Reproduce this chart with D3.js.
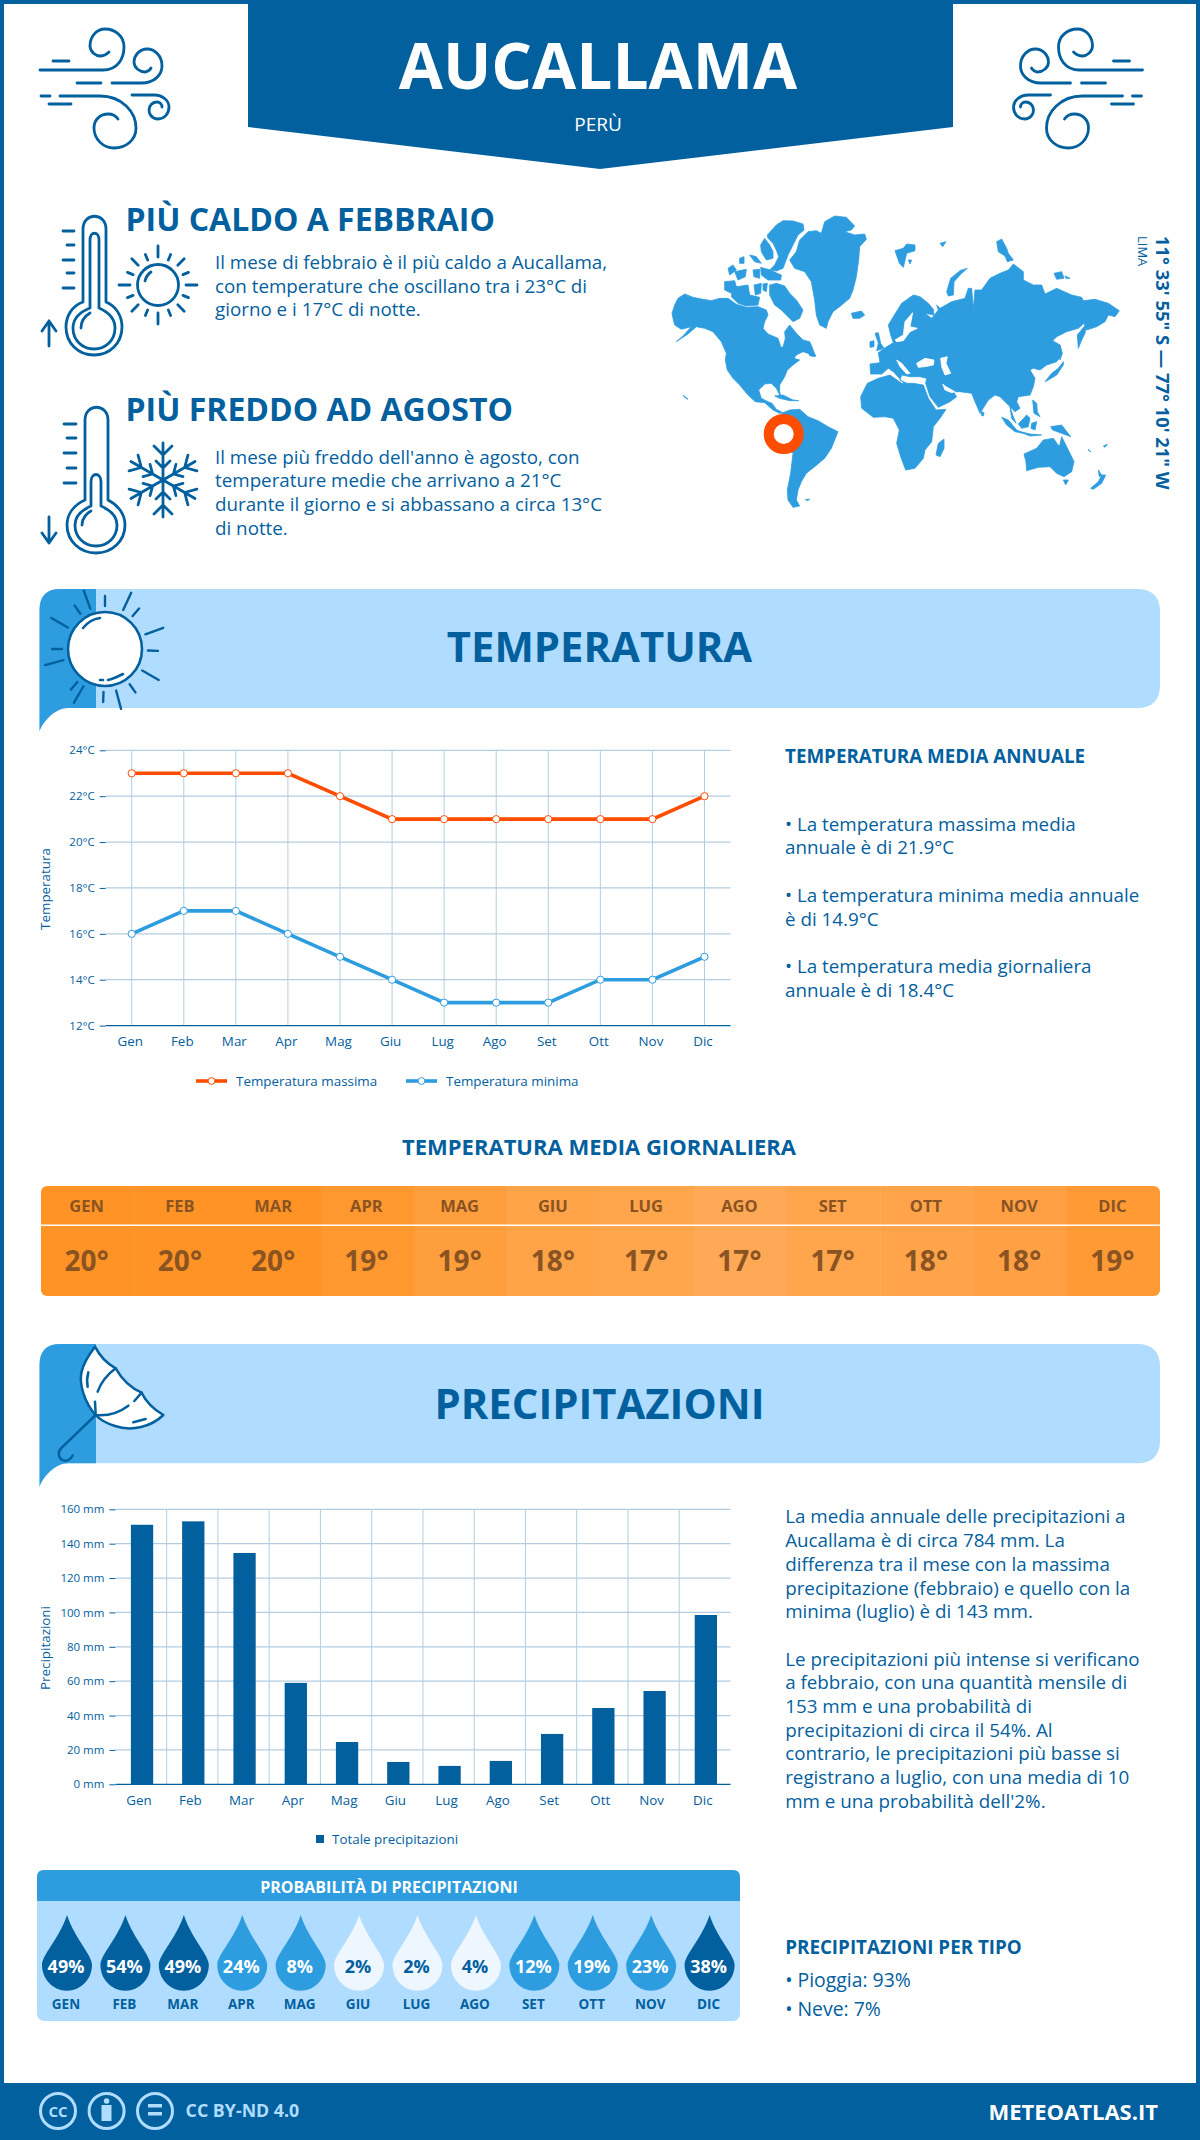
<!DOCTYPE html>
<html>
<head>
<meta charset="utf-8">
<script src="https://cdn.jsdelivr.net/npm/d3@7"></script>
<style>
  body { margin: 0; background: #fff; }
  text { font-family: "Open Sans", sans-serif; }
</style>
</head>
<body>
<svg id="chart" width="1200" height="2140" viewBox="0 0 1200 2140"></svg>
<script>
const months = ['Gen','Feb','Mar','Apr','Mag','Giu','Lug','Ago','Set','Ott','Nov','Dic']
const monthsUpper = ['GEN','FEB','MAR','APR','MAG','GIU','LUG','AGO','SET','OTT','NOV','DIC']
const tempMax = [23,23,23,23,22,21,21,21,21,21,21,22]
const tempMin = [16,17,17,16,15,14,13,13,13,14,14,15]
const tempAvg = [20,20,20,19,19,18,17,17,17,18,18,19]
const precip = [151,153,134.6,59,24.6,13,10.7,13.6,29.3,44.4,54.3,98.5]
const precipProb = [49,54,49,24,8,2,2,4,12,19,23,38]
const tempTicks = [12,14,16,18,20,22,24]
const precipTicks = [0,20,40,60,80,100,120,140,160]

const hotText = ['Il mese di febbraio è il più caldo a Aucallama,','con temperature che oscillano tra i 23°C di','giorno e i 17°C di notte.']
const coldText = ["Il mese più freddo dell'anno è agosto, con",'temperature medie che arrivano a 21°C','durante il giorno e si abbassano a circa 13°C','di notte.']
const annualText = [['• La temperatura massima media',831],['annuale è di 21.9°C',854],['• La temperatura minima media annuale',902.3],['è di 14.9°C',926],['• La temperatura media giornaliera',973],['annuale è di 18.4°C',996.7]]
const precipText = [['La media annuale delle precipitazioni a',1523.3],['Aucallama è di circa 784 mm. La',1547],['differenza tra il mese con la massima',1570.7],['precipitazione (febbraio) e quello con la',1594.5],['minima (luglio) è di 143 mm.',1618.3],
  ['Le precipitazioni più intense si verificano',1665.6],['a febbraio, con una quantità mensile di',1689.3],['153 mm e una probabilità di',1713],['precipitazioni di circa il 54%. Al',1736.6],['contrario, le precipitazioni più basse si',1760.3],['registrano a luglio, con una media di 10',1784],['mm e una probabilità dell\'2%.',1807.7]]

const blue = '#03609e', mid = '#2e9ddf', light = '#b0dcff', orange = '#ff4d00', grid = '#b3cde0'
const heatColors = ['#ff9326','#ff9326','#ff9326','#ff982f','#ff9e3c','#ffa349','#ffa54c','#ffa855','#ffa54c','#ffa44a','#ffa045','#ff9a35']

const svg = d3.select('#chart')

function label(x, y, str, size, weight, fill, anchor) {
  return svg.append('text').attr('x', x).attr('y', y).text(str)
    .attr('font-size', size).attr('font-weight', weight || 400)
    .attr('fill', fill || blue).attr('text-anchor', anchor || 'start')
}
function stroke(g, d, w) {
  return g.append('path').attr('d', d).attr('fill', 'none').attr('stroke', blue)
    .attr('stroke-width', w || 2.8).attr('stroke-linecap', 'round').attr('stroke-linejoin', 'round')
}

// frame and header
svg.append('rect').attr('x', 2).attr('y', 2).attr('width', 1196).attr('height', 2100)
  .attr('fill', 'none').attr('stroke', blue).attr('stroke-width', 4)
svg.append('path').attr('d', 'M248 0H953V127L600 169L248 127Z').attr('fill', blue)
label(598, 89, 'AUCALLAMA', 64, 700, '#fff', 'middle')
label(598, 131, 'PERÙ', 19, 400, '#fff', 'middle')

function wind(g) {
  stroke(g, 'M40 70H103C118 70 124 58 124 47C124 36 115 29 105 29C96 29 90 37 90 46C90 52 96 56 100 56C104 56 107 54 109 52')
  stroke(g, 'M53 61H69M77 83H101')
  stroke(g, 'M112 83H142C154 83 162 75 162 66C162 56 155 49 147 49C139 49 134 56 134 62C134 68 140 72 145 72C147 72 150 70 151 68')
  stroke(g, 'M41 96H50M60 96H100C122 96 136 112 136 128C136 140 126 148 114 148C103 148 94 139 94 128C94 119 101 114 108 114C112 114 116 116 118 119')
  stroke(g, 'M49 104H71')
  stroke(g, 'M132 95H154C163 95 169 101 169 107C169 114 164 119 158 119C152 119 149 114 149 110C149 105 153 102 157 102C160 102 162 104 162 107')
}
wind(svg.append('g'))
wind(svg.append('g').attr('transform', 'translate(1182.5,0) scale(-1,1)'))

// hot and cold blocks
label(125.5, 231, 'PIÙ CALDO A FEBBRAIO', 32, 700)
hotText.forEach((t, i) => label(215, 269 + i * 23.6, t, 18.8))
label(125.5, 421, 'PIÙ FREDDO AD AGOSTO', 32, 700)
coldText.forEach((t, i) => label(215, 463.6 + i * 23.7, t, 18.8))

const icons = svg.append('g')
stroke(icons, 'M83 302V229C83 212 106 212 106 229V302C116 306 122 316 122 327C122 343 110 355 94 355C78 355 66 343 66 327C66 316 72 306 83 302Z')
stroke(icons, 'M90 308V240C90 231 99 231 99 240V308C108 312 115 319 115 328C115 340 106 349 94 349C82 349 73 340 73 328C73 319 80 312 90 308Z')
stroke(icons, 'M81 328C81 320 85 316 90 313')
stroke(icons, 'M63 231H74M67 245H74M63 260H74M67 273H74M63 288H74M49 346V321M42 331L49 321L56 331')
stroke(icons, 'M85 500V420C85 403 108 403 108 420V500C118 505 125 514 125 525C125 541 112 553 96 553C80 553 67 541 67 525C67 514 74 505 85 500Z')
stroke(icons, 'M91 506V482C91 472 101 472 101 482V506C110 510 117 516 117 525C117 537 108 546 96 546C84 546 75 537 75 525C75 516 82 510 91 506Z')
stroke(icons, 'M82 525C82 518 87 513 91 511')
stroke(icons, 'M64 424H76M67 438H76M64 453H76M67 468H76M64 483H76M49 517V543M42 533L49 543L56 533')

// small sun
const sun = svg.append('g').attr('transform', 'translate(158,285)')
sun.append('circle').attr('r', 20.5).attr('fill', 'none').attr('stroke', blue).attr('stroke-width', 2.8)
stroke(sun, 'M-13 -4C-12 -8 -10 -11 -7 -13')
d3.range(16).forEach(i => {
  const a = i * Math.PI / 8
  const r0 = i % 2 === 0 ? 28 : 27
  const r1 = i % 4 === 0 ? 39 : i % 2 === 0 ? 37 : 33
  stroke(sun, `M${r0 * Math.cos(a)} ${r0 * Math.sin(a)}L${r1 * Math.cos(a)} ${r1 * Math.sin(a)}`)
})

// snowflake
const flake = svg.append('g').attr('transform', 'translate(163,480)')
d3.range(6).forEach(i => {
  const arm = flake.append('g').attr('transform', `rotate(${i * 60})`)
  stroke(arm, 'M0 0V-37M-9 -34L0 -25L9 -34M-7 -19L0 -12L7 -19')
})

// world map, outlines in two crops
const landWest = [
  [[12,310],[20,285],[30,265],[50,252],[75,262],[105,268],[130,272],[155,265],[180,265],[205,283],[235,292],[270,290],[295,300],[300,315],[290,335],[285,355],[300,372],[330,385],[338,410],[345,412],[352,385],[350,365],[365,345],[385,370],[405,390],[425,395],[432,410],[442,438],[420,430],[405,425],[385,435],[378,445],[395,450],[375,465],[358,480],[350,500],[335,525],[335,545],[340,565],[325,535],[310,520],[290,522],[272,540],[280,565],[300,575],[312,580],[325,598],[345,608],[335,610],[315,600],[290,578],[262,575],[240,555],[215,525],[195,505],[178,480],[172,450],[175,430],[160,395],[135,365],[110,355],[85,350],[60,372],[25,395],[45,378],[70,350],[40,358],[20,345],[15,325]],
  [[298,75],[325,45],[345,32],[375,33],[405,42],[408,60],[390,75],[375,105],[360,135],[345,175],[325,183],[305,180],[320,165],[332,140],[325,120],[315,100],[300,85]],
  [[278,105],[290,85],[305,105],[315,125],[315,145],[295,150],[280,125]],
  [[305,225],[325,220],[350,228],[365,250],[385,270],[405,300],[395,325],[375,335],[360,320],[340,300],[320,285],[305,255]],
  [[195,232],[240,225],[245,255],[275,262],[270,285],[235,288],[210,280],[190,260]],
  [[170,215],[200,212],[205,230],[190,250],[170,240]],
  [[255,180],[275,178],[275,205],[258,200]],
  [[278,172],[300,178],[340,195],[338,210],[300,210],[280,195]],
  [[200,185],[235,178],[232,200],[210,210]],
  [[180,175],[195,165],[205,180],[185,195]],
  [[215,145],[228,140],[228,160],[215,160]],
  [[245,135],[265,140],[280,160],[260,155]],
  [[258,225],[280,220],[278,250],[262,255]],
  [[285,222],[298,220],[295,245],[285,240]],
  [[420,425],[440,430],[442,440],[425,437]],
  [[365,150],[385,125],[395,90],[420,65],[445,62],[460,70],[470,35],[500,18],[535,22],[560,48],[550,60],[530,65],[560,75],[590,72],[595,88],[575,110],[572,150],[565,200],[555,240],[545,265],[515,290],[495,305],[480,335],[475,355],[455,345],[445,315],[440,270],[430,215],[410,185],[380,175]],
  [[550,310],[580,303],[590,315],[575,325],[555,325]],
  [[320,558],[345,555],[375,570],[392,572],[365,572],[335,565]],
  [[345,608],[365,600],[395,598],[420,620],[450,632],[480,650],[510,665],[500,690],[490,715],[470,745],[440,770],[415,790],[400,815],[390,840],[385,870],[395,888],[375,892],[360,870],[358,840],[368,790],[375,730],[350,690],[330,650],[330,625]],
  [[412,868],[425,868],[418,872]],
  [[45,555],[60,568],[50,562]]
]
const landEast = [
  [[30,432],[60,428],[55,398],[80,380],[100,368],[92,345],[85,315],[100,290],[125,250],[160,225],[180,230],[205,250],[220,268],[222,285],[195,280],[215,295],[235,270],[230,255],[240,265],[275,245],[315,235],[325,205],[335,205],[340,265],[345,210],[365,210],[390,175],[420,160],[445,150],[460,132],[490,155],[490,180],[520,195],[545,195],[555,222],[590,205],[635,225],[665,232],[670,242],[705,238],[745,250],[778,272],[765,290],[745,285],[735,305],[710,320],[680,330],[672,310],[655,325],[620,335],[590,350],[578,362],[600,375],[605,405],[590,425],[560,435],[540,450],[520,445],[510,450],[525,475],[520,500],[510,525],[475,530],[470,545],[480,565],[465,575],[445,555],[420,530],[405,525],[385,540],[360,580],[345,545],[335,520],[300,515],[280,515],[290,530],[270,545],[235,562],[210,530],[197,490],[200,475],[180,470],[150,470],[125,465],[120,480],[140,490],[130,488],[100,455],[85,445],[65,462],[32,462]],
  [[45,340],[55,338],[62,370],[72,385],[50,392],[55,370]],
  [[30,365],[42,362],[42,380],[30,382]],
  [[2,530],[22,490],[55,475],[90,465],[125,490],[160,490],[190,495],[205,535],[228,570],[258,568],[240,595],[220,620],[215,665],[195,690],[190,715],[165,745],[137,750],[122,710],[110,670],[118,630],[100,595],[75,590],[40,592],[5,565]],
  [[228,705],[235,670],[252,657],[252,685],[240,710]],
  [[260,215],[272,175],[300,152],[322,145],[305,160],[282,185],[280,225],[265,228]],
  [[105,92],[130,85],[140,72],[165,75],[165,92],[140,100],[130,142],[118,130]],
  [[145,120],[155,120],[150,132]],
  [[240,70],[258,65],[248,80]],
  [[410,65],[425,57],[440,85],[445,100],[460,120],[442,125],[435,108],[415,95]],
  [[582,160],[605,155],[612,175],[590,178]],
  [[615,168],[630,175],[618,175]],
  [[652,345],[672,320],[680,310],[675,340],[665,360],[655,385]],
  [[555,485],[575,460],[595,445],[610,425],[610,435],[590,465],[565,480]],
  [[600,375],[607,400],[600,420],[595,395]],
  [[365,575],[372,578],[370,588],[363,585]],
  [[425,592],[445,600],[470,630],[490,640],[465,635],[440,615]],
  [[470,632],[510,642],[545,645],[510,648]],
  [[475,612],[500,585],[510,595],[505,620],[485,625]],
  [[515,610],[530,605],[525,630],[513,625]],
  [[518,540],[530,550],[532,575],[540,590],[522,580]],
  [[572,620],[605,615],[632,650],[600,638],[578,630]],
  [[450,560],[460,590],[468,610],[455,595]],
  [[492,702],[530,685],[550,660],[580,655],[598,680],[605,650],[625,690],[642,725],[635,755],[612,770],[590,760],[570,740],[535,742],[500,752],[498,725]],
  [[610,780],[625,780],[617,795]],
  [[692,805],[715,785],[725,765],[737,765],[725,790],[700,808]],
  [[715,750],[725,765],[718,770]],
  [[685,688],[692,695],[686,692]],
  [[730,678],[742,673],[735,682]]
]
const waterEast = [
  [[248,492],[258,500],[285,515],[275,518],[255,510]],
  [[170,430],[195,415],[222,420],[220,435],[195,440],[175,442]],
  [[242,415],[262,410],[258,430],[272,460],[255,465],[245,440]],
  [[105,360],[130,345],[135,305],[158,278],[150,320],[172,325],[150,335],[130,362],[110,365]],
  [[110,420],[125,430],[150,460],[140,462],[120,440]]
]
function mapPath(x0, y0) {
  const x = d3.scaleLinear().domain([0, 3]).range([x0, x0 + 1])
  const y = d3.scaleLinear().domain([0, 3]).range([y0, y0 + 1])
  return d3.line().x(d => x(d[0])).y(d => y(d[1])).curve(d3.curveLinearClosed)
}
const westPath = mapPath(668, 210), eastPath = mapPath(860, 220)
function drawShapes(shapes, path, color) {
  svg.append('g').selectAll('path').data(shapes).join('path').attr('d', path)
    .attr('fill', color).attr('stroke', color).attr('stroke-width', 0.8).attr('stroke-linejoin', 'round')
}
drawShapes(landWest, westPath, mid)
drawShapes(landEast, eastPath, mid)
drawShapes(waterEast, eastPath, '#fff')
svg.append('circle').attr('cx', 783.7).attr('cy', 434).attr('r', 15).attr('fill', '#fff').attr('stroke', orange).attr('stroke-width', 10)

svg.append('text').attr('transform', 'translate(1156,236) rotate(90)').text('11° 33\' 55" S — 77° 10\' 21" W')
  .attr('font-size', 18.4).attr('font-weight', 700).attr('fill', blue)
svg.append('text').attr('transform', 'translate(1137.5,236) rotate(90)').text('LIMA')
  .attr('font-size', 13).attr('fill', blue)

// section banners
function banner(top, bottom, tail, title, baseline) {
  svg.append('path').attr('d', `M39.5 ${tail}V${top + 21}Q39.5 ${top} 60 ${top}H1137Q1160 ${top} 1160 ${top + 23}V${bottom - 23}Q1160 ${bottom} 1137 ${bottom}H68C55 ${bottom} 43 ${tail - 10} 39.5 ${tail}Z`).attr('fill', light)
  svg.append('path').attr('d', `M39.5 ${tail}V${top + 21}Q39.5 ${top} 60 ${top}H96V${bottom}H68C55 ${bottom} 43 ${tail - 10} 39.5 ${tail}Z`).attr('fill', mid)
  label(599.5, baseline, title, 41.8, 700, blue, 'middle')
}
banner(589, 708, 731.5, 'TEMPERATURA', 662)
banner(1344, 1463.3, 1487, 'PRECIPITAZIONI', 1419)

// big sun
const bigSun = svg.append('g').attr('transform', 'translate(105,649)')
bigSun.append('circle').attr('r', 37).attr('fill', '#fff').attr('stroke', blue).attr('stroke-width', 2.6)
stroke(bigSun, 'M-22 -21C-18 -26 -12 -30 -5 -31', 2.6)
stroke(bigSun, 'M-5 31H-2M3 31C8 30 12 28 18 25', 2.6)
const longRays = [-150,-110,-65,-20,30,75,120,165]
const shortRays = [-125,-90,-50,2,55,92,130,180]
longRays.forEach(a => {
  const c = Math.cos(a * Math.PI / 180), s = Math.sin(a * Math.PI / 180)
  stroke(bigSun, `M${43 * c} ${43 * s}L${62 * c} ${62 * s}`, 2.4)
})
shortRays.forEach(a => {
  const c = Math.cos(a * Math.PI / 180), s = Math.sin(a * Math.PI / 180)
  stroke(bigSun, `M${43 * c} ${43 * s}L${53 * c} ${53 * s}`, 2.4)
})

// umbrella, drawn at 3x and scaled down
const umbrella = svg.append('g').attr('transform', 'translate(35,1340) scale(0.3333)')
umbrella.append('path').attr('d', 'M180 20C195 50 215 70 242 85C262 120 290 145 320 158C335 190 360 210 385 225C350 260 290 275 240 258C215 250 195 240 182 225C150 190 130 130 140 95C145 70 165 40 180 20Z')
  .attr('fill', '#fff').attr('stroke', blue).attr('stroke-width', 7.5).attr('stroke-linejoin', 'round')
stroke(umbrella, 'M242 85C215 105 197 130 188 155M180 185L182 222M320 158L298 183M280 197C250 220 215 228 182 225M160 97C155 115 155 125 158 140M295 247L332 237M182 225L78 325C65 340 72 362 92 362C102 362 108 355 113 347', 7.5)

// temperature line chart
const tx = d3.scalePoint().domain(months).range([131.7, 704.5])
const ty = d3.scaleLinear().domain([12, 24]).range([1025.6, 750.3])
const tg = svg.append('g')
tg.append('g').selectAll('line').data(tempTicks.slice(1)).join('line')
  .attr('x1', 105.7).attr('x2', 730.5).attr('y1', d => ty(d)).attr('y2', d => ty(d))
  .attr('stroke', grid).attr('stroke-width', 1.2)
tg.append('g').selectAll('line').data(months).join('line')
  .attr('x1', d => tx(d)).attr('x2', d => tx(d)).attr('y1', 750.3).attr('y2', 1025.6)
  .attr('stroke', grid).attr('stroke-width', 1)

function styleAxis(g, size) {
  g.selectAll('path,line').attr('stroke', blue)
  g.selectAll('text').attr('fill', blue).attr('font-size', size).attr('font-family', '"Open Sans", sans-serif')
}
tg.append('g').attr('transform', 'translate(105.7,0)')
  .call(d3.axisLeft(ty).tickValues(tempTicks).tickSize(6).tickFormat(d => d + '°C'))
  .call(styleAxis, 11.5).call(g => g.select('.domain').remove())
  .call(g => g.selectAll('text').attr('x', -11))
tg.append('g').attr('transform', 'translate(0,1025.6)')
  .call(d3.axisBottom(tx).tickSize(0).tickPadding(11))
  .call(styleAxis, 13.4)
  .call(g => g.select('.domain').attr('d', 'M105.7 0H730.5').attr('stroke-width', 1.3))
  .call(g => g.selectAll('text').attr('x', -2))

const tLine = d3.line().x((d, i) => tx(months[i])).y(d => ty(d))
function tempSeries(values, color) {
  tg.append('path').datum(values).attr('d', tLine).attr('fill', 'none').attr('stroke', color).attr('stroke-width', 3.6)
  tg.append('g').selectAll('circle').data(values).join('circle')
    .attr('cx', (d, i) => tx(months[i])).attr('cy', d => ty(d)).attr('r', 3.6)
    .attr('fill', '#fff').attr('stroke', color).attr('stroke-width', 1)
}
tempSeries(tempMax, orange)
tempSeries(tempMin, mid)

svg.append('text').attr('transform', 'translate(50,889) rotate(-90)').attr('text-anchor', 'middle')
  .text('Temperatura').attr('font-size', 13.4).attr('fill', blue)

function legendLine(x0, color, str) {
  svg.append('line').attr('x1', x0).attr('x2', x0 + 31).attr('y1', 1081).attr('y2', 1081).attr('stroke', color).attr('stroke-width', 3.6)
  svg.append('circle').attr('cx', x0 + 15.5).attr('cy', 1081).attr('r', 3.4).attr('fill', '#fff').attr('stroke', color)
  label(x0 + 40, 1085.5, str, 13.4)
}
legendLine(196, orange, 'Temperatura massima')
legendLine(406, mid, 'Temperatura minima')

label(785, 763.3, 'TEMPERATURA MEDIA ANNUALE', 18.8, 700)
annualText.forEach(d => label(785, d[1], d[0], 18.8))

// daily mean strip
label(599, 1155, 'TEMPERATURA MEDIA GIORNALIERA', 22, 700, blue, 'middle')
const hx = d3.scaleBand().domain(monthsUpper).range([41, 1160])
svg.append('clipPath').attr('id', 'strip').append('rect')
  .attr('x', 41).attr('y', 1186).attr('width', 1119).attr('height', 110).attr('rx', 6)
const strip = svg.append('g').attr('clip-path', 'url(#strip)')
strip.selectAll('rect').data(monthsUpper).join('rect')
  .attr('x', d => hx(d)).attr('y', 1186).attr('width', hx.bandwidth() + 0.5).attr('height', 110)
  .attr('fill', (d, i) => heatColors[i])
svg.append('line').attr('x1', 41).attr('x2', 1160).attr('y1', 1225.3).attr('y2', 1225.3).attr('stroke', '#fff').attr('stroke-width', 1.5)
monthsUpper.forEach((m, i) => {
  label(hx(m) + hx.bandwidth() / 2 - 1, 1211.7, m, 16.5, 700, '#8a5322', 'middle')
  label(hx(m) + hx.bandwidth() / 2 - 1, 1271, tempAvg[i] + '°', 28, 700, '#8a5322', 'middle')
})

// precipitation bars
const pBand = d3.scaleBand().domain(months).range([115.4, 730.5])
const px = pBand.copy().paddingInner(0.565).paddingOuter(0.2825)
const py = d3.scaleLinear().domain([0, 160]).range([1784.3, 1509.3])
const pg = svg.append('g')
pg.append('g').selectAll('line').data(precipTicks.slice(1)).join('line')
  .attr('x1', 115.4).attr('x2', 730.5).attr('y1', d => py(d)).attr('y2', d => py(d))
  .attr('stroke', grid).attr('stroke-width', 1.2)
pg.append('g').selectAll('line').data(months.slice(1)).join('line')
  .attr('x1', d => pBand(d)).attr('x2', d => pBand(d)).attr('y1', 1509.3).attr('y2', 1784.3)
  .attr('stroke', grid).attr('stroke-width', 1)
pg.append('g').selectAll('rect').data(precip).join('rect')
  .attr('x', (d, i) => px(months[i]) + 1).attr('width', px.bandwidth())
  .attr('y', d => py(d)).attr('height', d => py(0) - py(d)).attr('fill', blue)
pg.append('g').attr('transform', 'translate(115.4,0)')
  .call(d3.axisLeft(py).tickValues(precipTicks).tickSize(6).tickFormat(d => d + ' mm'))
  .call(styleAxis, 11.5).call(g => g.select('.domain').remove())
  .call(g => g.selectAll('text').attr('x', -11))
pg.append('g').attr('transform', 'translate(0,1784.3)')
  .call(d3.axisBottom(pBand).tickSize(0).tickPadding(11))
  .call(styleAxis, 13.4)
  .call(g => g.select('.domain').attr('d', 'M115.4 0H730.5').attr('stroke-width', 1.3))
  .call(g => g.selectAll('text').attr('x', -2))
svg.append('text').attr('transform', 'translate(50,1648) rotate(-90)').attr('text-anchor', 'middle')
  .text('Precipitazioni').attr('font-size', 13.4).attr('fill', blue)
svg.append('rect').attr('x', 316).attr('y', 1835).attr('width', 8).attr('height', 8).attr('fill', blue)
label(332, 1843.5, 'Totale precipitazioni', 13.4)

precipText.forEach(d => label(785.2, d[1], d[0], 18.8))
label(785.2, 1953.5, 'PRECIPITAZIONI PER TIPO', 18.8, 700)
label(785.2, 1987, '• Pioggia: 93%', 19.4)
label(785.2, 2016, '• Neve: 7%', 19.4)

// rain probability panel
svg.append('rect').attr('x', 37).attr('y', 1870).attr('width', 703).attr('height', 151).attr('rx', 7).attr('fill', light)
svg.append('path').attr('d', 'M37 1901V1877Q37 1870 44 1870H733Q740 1870 740 1877V1901Z').attr('fill', mid)
label(389, 1893, 'PROBABILITÀ DI PRECIPITAZIONI', 16, 700, '#fff', 'middle')
const dropX = d3.scalePoint().domain(monthsUpper).range([67, 709.6])
const dropColor = d3.scaleThreshold().domain([5, 30]).range(['#eef7ff', mid, blue])
const dropPath = 'M0 0C8 24 25 40 25 50C25 64 14 75.7 0 75.7C-14 75.7 -25 64 -25 50C-25 40 -8 24 0 0Z'
svg.append('g').selectAll('path').data(precipProb).join('path')
  .attr('d', dropPath).attr('transform', (d, i) => `translate(${dropX(monthsUpper[i])},1915)`)
  .attr('fill', d => dropColor(d))
precipProb.forEach((p, i) => {
  const x = dropX(monthsUpper[i]) - 1
  label(x, 1972.7, p + '%', 18, 700, p < 5 ? blue : '#fff', 'middle')
  label(x, 2009, monthsUpper[i], 13.5, 700, blue, 'middle')
})

// footer
svg.append('rect').attr('x', 0).attr('y', 2083).attr('width', 1200).attr('height', 57).attr('fill', blue)
const badges = svg.append('g')
;[58, 106.6, 155].forEach(x => {
  badges.append('circle').attr('cx', x).attr('cy', 2111).attr('r', 17.5).attr('fill', 'none').attr('stroke', light).attr('stroke-width', 3)
})
label(58, 2116.5, 'CC', 15, 700, light, 'middle')
badges.append('circle').attr('cx', 106.6).attr('cy', 2101).attr('r', 2.8).attr('fill', light)
badges.append('rect').attr('x', 101.5).attr('y', 2105).attr('width', 10).attr('height', 16).attr('fill', light)
badges.append('rect').attr('x', 148).attr('y', 2104).attr('width', 14).attr('height', 3.5).attr('fill', light)
badges.append('rect').attr('x', 148).attr('y', 2112).attr('width', 14).attr('height', 3.5).attr('fill', light)
label(185.6, 2117, 'CC BY-ND 4.0', 17.8, 700, light)
label(1158, 2120, 'METEOATLAS.IT', 22, 700, '#fff', 'end')
</script>
</body>
</html>
